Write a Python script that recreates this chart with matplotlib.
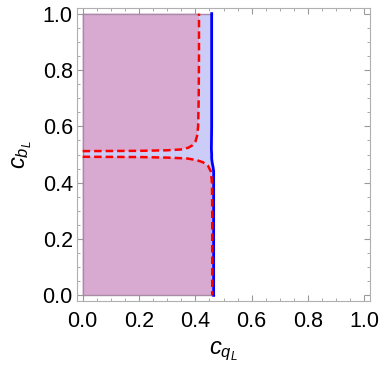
import numpy as np
import matplotlib
matplotlib.use("Agg")
import matplotlib.pyplot as plt
from matplotlib.ticker import MultipleLocator

plt.rcParams.update({
    "font.family": "Liberation Sans",
    "mathtext.fontset": "custom",
    "mathtext.it": "Liberation Sans:italic",
    "mathtext.rm": "Liberation Sans",
})

# blue boundary of the allowed region (x as function of y)
blue_y = [0.0, 0.30, 0.44, 0.455, 0.47, 0.485, 0.50, 0.52, 0.60, 1.0]
blue_x = [0.465, 0.465, 0.465, 0.463, 0.460, 0.458, 0.458, 0.457, 0.458, 0.458]

# red dashed contour, upper branch
red_up_x = [0.0, 0.20, 0.30, 0.35, 0.375, 0.39, 0.40, 0.406, 0.41, 0.412, 0.413, 0.413]
red_up_y = [0.512, 0.513, 0.515, 0.518, 0.524, 0.533, 0.545, 0.565, 0.60, 0.70, 0.85, 1.0]

# red dashed contour, lower branch
red_lo_x = [0.0, 0.20, 0.30, 0.37, 0.405, 0.428, 0.445, 0.455, 0.459, 0.460, 0.460]
red_lo_y = [0.492, 0.491, 0.489, 0.486, 0.480, 0.472, 0.460, 0.440, 0.40, 0.30, 0.0]

LAV = "#ccccf8"
PINK = "#d8aad2"
EDGE = "#a88ca6"

fig = plt.figure(figsize=(3.82, 3.72), dpi=100)
ax = fig.add_axes([77 / 382, 71 / 372, 293 / 382, 293 / 372])

ax.fill_betweenx(blue_y, 0, blue_x, color=LAV, lw=0)
ax.fill(np.r_[0, red_up_x[::-1]], np.r_[1, red_up_y[::-1]], color=PINK, lw=0)
ax.fill(np.r_[0, red_lo_x[::-1]], np.r_[0, red_lo_y[::-1]], color=PINK, lw=0)

# region edges along the plot range
ax.plot([0, 0], [0, 1], color=EDGE, lw=1.0)
ax.plot([0, blue_x[-1]], [1, 1], color=EDGE, lw=1.0)
ax.plot([0, blue_x[0]], [0, 0], color=EDGE, lw=1.0)

ax.plot(blue_x, blue_y, color="#0000ff", lw=2.0)
ax.plot(red_up_x, red_up_y, color="#ff0000", lw=1.8, dashes=(3, 1.6))
ax.plot(red_lo_x, red_lo_y, color="#ff0000", lw=1.8, dashes=(3, 1.6))

ax.set_xlim(-0.02, 1.02)
ax.set_ylim(-0.02, 1.02)
ax.xaxis.set_major_locator(MultipleLocator(0.2))
ax.yaxis.set_major_locator(MultipleLocator(0.2))
ax.xaxis.set_minor_locator(MultipleLocator(0.05))
ax.yaxis.set_minor_locator(MultipleLocator(0.05))
ax.xaxis.set_major_formatter(lambda v, p: f"{v:.1f}")
ax.yaxis.set_major_formatter(lambda v, p: f"{v:.1f}")
ax.tick_params(which="both", direction="in", top=True, right=True, color="#999999",
               labelsize=15.5, labelcolor="black")
ax.tick_params(which="major", length=4.5, width=0.8)
ax.tick_params(which="minor", length=2.5, width=0.6)
ax.tick_params(axis="x", pad=7)
ax.tick_params(axis="y", pad=3)
for sp in ax.spines.values():
    sp.set_color("#b0b0b0")
    sp.set_linewidth(0.8)

ax.set_xlabel(r"$c_{q_L}$", fontsize=17, labelpad=6)
ax.set_ylabel(r"$c_{b_L}$", fontsize=17, labelpad=6)

fig.savefig("out.png", dpi=100)
